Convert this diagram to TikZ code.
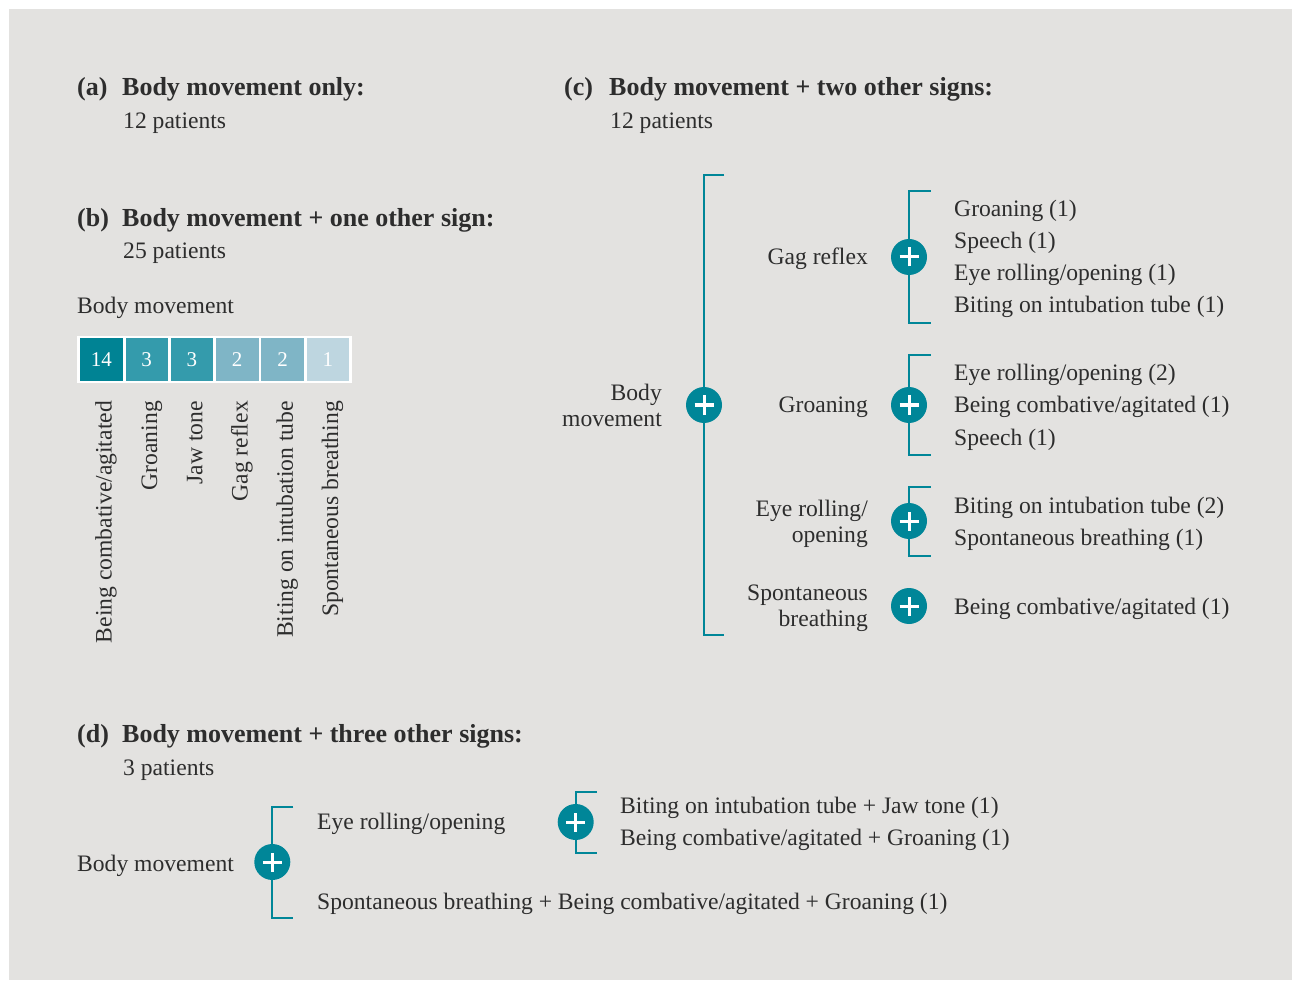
\documentclass[tikz,border=0pt]{standalone}
\usepackage{fontspec}
\setmainfont{Liberation Serif}
\definecolor{bggray}{RGB}{227,226,224}
\definecolor{teal1}{RGB}{0,134,152}
\definecolor{txt}{RGB}{45,45,45}
\definecolor{cellA}{RGB}{0,131,148}
\definecolor{cellB}{RGB}{52,155,172}
\definecolor{cellC}{RGB}{127,181,198}
\definecolor{cellD}{RGB}{190,214,224}
\tikzset{
  reg/.style={inner sep=0pt, text=txt, font=\fontsize{23.6}{27}\selectfont},
  hd/.style={inner sep=0pt, text=txt, font=\fontsize{26}{30}\selectfont\bfseries},
  lbl/.style={reg, anchor=base west},
  rlbl/.style={reg, anchor=base east},
  hdl/.style={hd, anchor=base west},
  bracketline/.style={draw=teal1, line width=2pt},
  plusnode/.style={circle, fill=teal1, minimum size=36pt, inner sep=0pt,
    path picture={
      \draw[white, line width=3pt] ([xshift=-9.5pt]path picture bounding box.center) -- ([xshift=9.5pt]path picture bounding box.center);
      \draw[white, line width=3pt] ([yshift=-9.5pt]path picture bounding box.center) -- ([yshift=9.5pt]path picture bounding box.center);
    }},
  cell/.style={minimum width=42.6pt, minimum height=42.7pt, inner sep=0pt, anchor=north west},
  num/.style={inner sep=0pt, text=white, font=\fontsize{21}{24}\selectfont, anchor=base},
  vlbl/.style={reg, rotate=90, anchor=base east}
}
\begin{document}
\begin{tikzpicture}[x=1pt, y=-1pt]
\useasboundingbox (0,0) rectangle (1293,981);
\fill[white] (0,0) rectangle (1293,981);
\fill[bggray] (9,9) rectangle (1292,980);

% ---------- (a)
\node[hdl] (ah) at (77,96) {(a)};
\node[hdl] (at) at (122,96) {Body movement only:};
\node[lbl] (ap) at (123,128.5) {12 patients};

% ---------- (b)
\node[hdl] (bh) at (77,226.5) {(b)};
\node[hdl] (bt) at (122,226.5) {Body movement + one other sign:};
\node[lbl] (bp) at (123,258.5) {25 patients};
\node[lbl] (bbm) at (77,313.3) {Body movement};

\fill[white] (77.3,335.7) rectangle (351.7,383.3);
\node[cell, fill=cellA] (c1) at (80.0,338.3) {};
\node[cell, fill=cellB] (c2) at (125.3,338.3) {};
\node[cell, fill=cellB] (c3) at (170.6,338.3) {};
\node[cell, fill=cellC] (c4) at (215.9,338.3) {};
\node[cell, fill=cellC] (c5) at (261.2,338.3) {};
\node[cell, fill=cellD] (c6) at (306.5,338.3) {};
\node[num] (n1) at (101.3,366.5) {14};
\node[num] (n2) at (146.6,366.5) {3};
\node[num] (n3) at (191.9,366.5) {3};
\node[num] (n4) at (237.2,366.5) {2};
\node[num] (n5) at (282.5,366.5) {2};
\node[num] (n6) at (327.8,366.5) {1};

\node[vlbl] (v1) at (111.7,401) {Being combative/agitated};
\node[vlbl] (v2) at (157.0,401) {Groaning};
\node[vlbl] (v3) at (202.3,401) {Jaw tone};
\node[vlbl] (v4) at (247.6,401) {Gag reflex};
\node[vlbl] (v5) at (292.9,401) {Biting on intubation tube};
\node[vlbl] (v6) at (338.2,401) {Spontaneous breathing};

% ---------- (c)
\node[hdl] (ch) at (564,96) {(c)};
\node[hdl] (ct) at (609,96) {Body movement + two other signs:};
\node[lbl] (cp) at (610,128.5) {12 patients};

\coordinate (Bt) at (724,175.5);
\coordinate (Bb) at (724,634.5);
\draw[bracketline] (Bt) -- (704,175.5) -- (704,634.5) -- (Bb);
\node[plusnode] (P0) at (704,405) {};
\node[rlbl] (bm1) at (662,400) {Body};
\node[rlbl] (bm2) at (662,426.7) {movement};

% group 1
\coordinate (g1t) at (930.5,191);
\coordinate (g1b) at (930.5,323);
\draw[bracketline] (g1t) -- (909,191) -- (909,323) -- (g1b);
\node[plusnode] (P1) at (909,257) {};
\node[rlbl] (l1) at (868,265) {Gag reflex};
\node[lbl] (i11) at (954,216.7) {Groaning (1)};
\node[lbl] (i12) at (954,248.7) {Speech (1)};
\node[lbl] (i13) at (954,280.7) {Eye rolling/opening (1)};
\node[lbl] (i14) at (954,312.7) {Biting on intubation tube (1)};

% group 2
\coordinate (g2t) at (930.5,355);
\coordinate (g2b) at (930.5,455);
\draw[bracketline] (g2t) -- (909,355) -- (909,455) -- (g2b);
\node[plusnode] (P2) at (909,405) {};
\node[rlbl] (l2) at (868,412.5) {Groaning};
\node[lbl] (i21) at (954,381) {Eye rolling/opening (2)};
\node[lbl] (i22) at (954,413) {Being combative/agitated (1)};
\node[lbl] (i23) at (954,445) {Speech (1)};

% group 3
\coordinate (g3t) at (930.5,487);
\coordinate (g3b) at (930.5,555.5);
\draw[bracketline] (g3t) -- (909,487) -- (909,555.5) -- (g3b);
\node[plusnode] (P3) at (909,521) {};
\node[rlbl] (l3a) at (868,516) {Eye rolling/};
\node[rlbl] (l3b) at (868,542.7) {opening};
\node[lbl] (i31) at (954,513) {Biting on intubation tube (2)};
\node[lbl] (i32) at (954,545) {Spontaneous breathing (1)};

% group 4
\node[plusnode] (P4) at (909,606) {};
\node[rlbl] (l4a) at (868,600.7) {Spontaneous};
\node[rlbl] (l4b) at (868,626.7) {breathing};
\node[lbl] (i41) at (954,614) {Being combative/agitated (1)};

% ---------- (d)
\node[hdl] (dh) at (77,742.5) {(d)};
\node[hdl] (dt) at (122,742.5) {Body movement + three other signs:};
\node[lbl] (dp) at (123,775) {3 patients};
\node[lbl] (dbm) at (77,871) {Body movement};

\coordinate (d1t) at (293.3,807);
\coordinate (d1b) at (293.3,917.5);
\draw[bracketline] (d1t) -- (272.3,807) -- (272.3,917.5) -- (d1b);
\node[plusnode] (PD1) at (272.3,862) {};
\node[lbl] (de1) at (317,829) {Eye rolling/opening};
\node[lbl] (de2) at (317,909) {Spontaneous breathing + Being combative/agitated + Groaning (1)};

\coordinate (d2t) at (596.7,791.7);
\coordinate (d2b) at (596.7,852.7);
\draw[bracketline] (d2t) -- (575.7,791.7) -- (575.7,852.7) -- (d2b);
\node[plusnode] (PD2) at (575.7,822) {};
\node[lbl] (df1) at (620,813) {Biting on intubation tube + Jaw tone (1)};
\node[lbl] (df2) at (620,845) {Being combative/agitated + Groaning (1)};
\end{tikzpicture}
\end{document}
